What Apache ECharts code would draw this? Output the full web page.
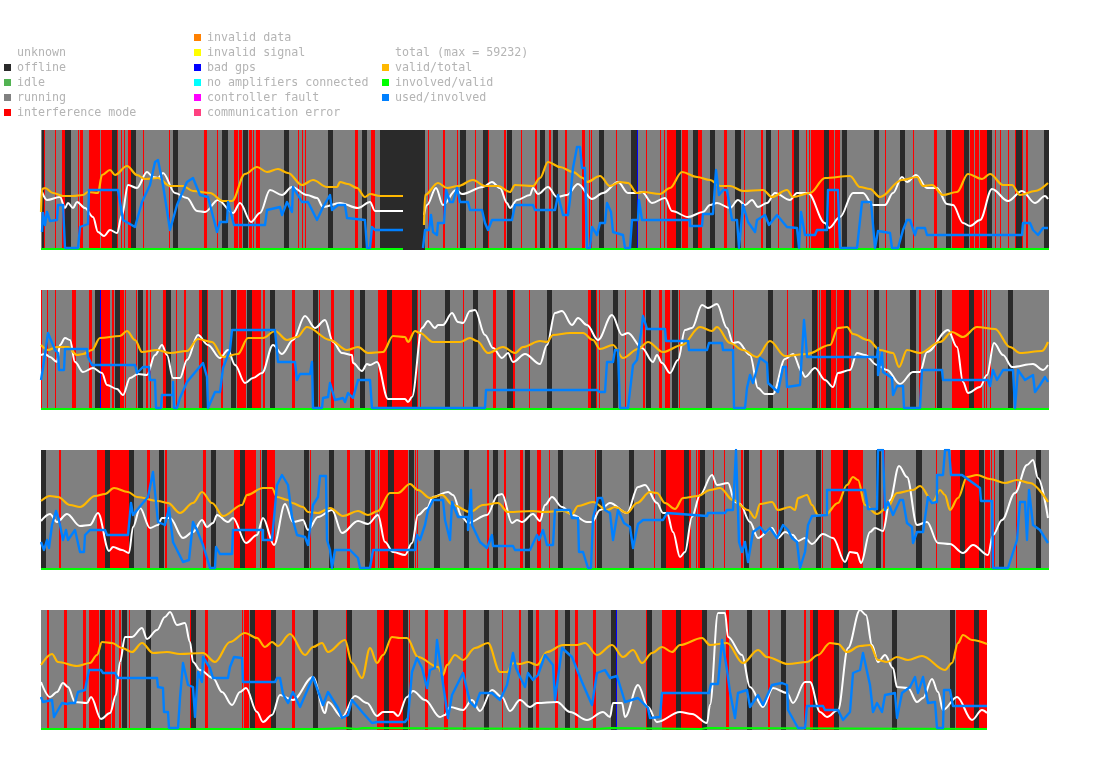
<!DOCTYPE html>
<html><head><meta charset="utf-8">
<style>html,body{margin:0;padding:0;background:#fff}#c{width:1095px;height:764px}</style>
<script src="https://cdn.jsdelivr.net/npm/echarts@6/dist/echarts.min.js"></script>
</head><body><div id="c"></div>
<script>
// x = sample index (0..1008), y = scale 0..120
const LEGEND_STATES_A = ['unknown','offline','idle','running','interference mode'];
const LEGEND_STATES_B = ['invalid data','invalid signal','bad gps','no amplifiers connected','controller fault','communication error'];
const LEGEND_LINES = ['total (max = 59232)','valid/total','involved/valid','used/involved'];
const COLORS = {'unknown':'rgba(0,0,0,0)','offline':'#2a2a2a','idle':'#52b352','running':'#808080','interference mode':'#ff0000',
 'invalid data':'#ff8000','invalid signal':'#ffff00','bad gps':'#0000ff','no amplifiers connected':'#00ffff','controller fault':'#ff00ff','communication error':'#ff4080',
 'total (max = 59232)':'#ffffff','valid/total':'#ffb800','involved/valid':'#00ff00','used/involved':'#0080ff'};

const RUN_1=[[0,1008]], RUN_2=[[0,1008]], RUN_3=[[0,1008]], RUN_4=[[0,946]];

const OFF_1=[[1,3],[24,30],[71,76],[90,95],[132,137],[181,187],[202,207],[243,248],[287,292],[321,326],[339,384],[419,425],[442,447],[466,471],[499,504],[512,517],[558,563],[590,596],[635,640],[652,657],[669,674],[694,700],[725,730],[753,758],[783,788],[801,806],[833,838],[859,864],[905,910],[923,928],[946,951],[975,981],[1003,1008]];
const RED_1=[[3,4],[14,15],[21,24],[37,38],[39,42],[48,59],[60,71],[76,77],[80,81],[83,84],[87,90],[102,103],[128,129],[163,166],[176,177],[193,197],[198,201],[208,211],[212,213],[215,219],[257,258],[261,262],[264,265],[314,317],[330,334],[387,388],[402,404],[416,417],[434,435],[447,448],[463,465],[480,481],[494,496],[508,510],[524,526],[541,544],[548,549],[550,551],[575,576],[605,606],[619,620],[623,624],[626,635],[641,647],[657,661],[683,686],[703,704],[720,722],[737,738],[751,753],[765,766],[768,769],[770,783],[788,793],[794,799],[844,845],[872,873],[893,896],[911,923],[929,933],[934,938],[939,946],[954,955],[959,960],[967,968],[974,975],[981,982],[985,987]];
const GPS_1=[[596,597]];

const OFF_2=[[54,59],[74,79],[97,102],[125,130],[161,166],[190,195],[206,211],[229,234],[272,277],[319,324],[346,351],[371,376],[404,409],[432,437],[466,472],[506,511],[550,555],[572,577],[605,610],[631,637],[665,671],[727,732],[771,776],[785,790],[803,808],[833,838],[869,875],[896,901],[928,933],[967,972]];
const RED_2=[[0,1],[6,7],[14,15],[31,35],[48,51],[60,69],[71,73],[79,83],[84,85],[95,96],[105,107],[109,110],[122,125],[135,136],[143,145],[158,161],[166,167],[180,182],[196,205],[211,220],[222,224],[251,254],[278,279],[290,293],[309,313],[337,346],[351,371],[376,377],[379,380],[422,423],[452,455],[472,474],[488,489],[547,550],[555,556],[558,559],[584,585],[602,604],[618,621],[624,629],[638,639],[692,693],[746,747],[776,777],[778,779],[780,785],[790,795],[796,803],[808,810],[826,827],[845,846],[878,880],[894,895],[911,928],[933,941],[943,944],[945,946],[949,950]];
const GPS_2=[[59,60]];

const OFF_3=[[0,5],[64,69],[88,93],[118,123],[170,175],[199,204],[221,226],[263,268],[288,293],[324,329],[347,353],[368,373],[393,399],[423,428],[452,457],[484,489],[517,522],[556,561],[588,593],[620,625],[643,648],[659,664],[703,708],[738,743],[775,780],[802,807],[835,840],[875,881],[919,924],[938,943],[958,963],[995,1000]];
const RED_3=[[18,20],[56,64],[69,88],[106,109],[124,126],[162,165],[193,199],[204,215],[219,220],[226,234],[269,270],[306,309],[330,334],[337,338],[339,347],[353,367],[374,375],[376,377],[446,448],[463,465],[479,482],[496,500],[508,509],[554,555],[613,614],[625,643],[648,650],[655,656],[657,659],[672,673],[683,684],[700,702],[719,721],[736,737],[781,782],[790,802],[807,822],[842,844],[895,896],[910,919],[924,938],[944,949],[950,951],[953,954],[975,976]];
const GPS_3=[];

const OFF_4=[[59,64],[81,86],[105,110],[150,155],[209,214],[230,235],[272,277],[306,311],[343,348],[362,367],[443,448],[487,492],[524,529],[570,575],[606,611],[635,640],[661,666],[706,711],[740,745],[772,777],[793,798],[851,856],[909,914],[933,938]];
const RED_4=[[6,8],[23,26],[42,45],[48,58],[64,70],[71,74],[78,80],[88,89],[149,150],[164,167],[201,202],[203,208],[214,230],[251,254],[305,306],[336,343],[348,362],[368,369],[384,387],[403,407],[422,425],[461,462],[478,480],[495,498],[514,517],[534,537],[552,555],[605,606],[621,635],[640,661],[685,688],[727,729],[763,765],[769,772],[777,793],[915,933],[938,946]];
const GPS_4=[[575,576]];

const TOTAL_1=[[1,58],[6,50],[19,53],[24,42],[27,47],[32,42],[36,48],[44,42],[52,33],[57,18],[63,14],[69,20],[76,17],[81,35],[87,65],[96,62],[106,78],[112,73],[117,72],[122,77],[134,57],[146,52],[156,39],[164,38],[177,50],[192,37],[199,47],[210,28],[219,37],[229,60],[241,55],[251,63],[266,55],[276,52],[282,43],[299,47],[317,42],[329,48],[334,39],[362,39],[370,null],[383,35],[386,45],[395,62],[402,45],[415,60],[421,56],[442,63],[451,68],[459,62],[466,47],[469,42],[476,50],[489,55],[492,62],[497,56],[507,63],[516,53],[526,55],[537,66],[551,51],[562,57],[577,68],[587,57],[596,57],[601,58],[611,47],[624,52],[631,39],[647,33],[662,38],[669,45],[676,47],[689,42],[697,50],[704,45],[711,50],[717,43],[726,47],[734,57],[749,50],[756,57],[767,57],[784,27],[788,22],[799,33],[812,57],[822,57],[832,45],[844,45],[852,57],[861,73],[866,68],[875,75],[886,62],[896,62],[906,46],[912,45],[922,27],[929,24],[939,30],[951,61],[967,49],[981,59],[994,47],[1004,54],[1007,51]];
const VALID_1=[[0,38],[1,61],[4,62],[12,57],[22,54],[32,54],[42,55],[47,58],[57,57],[61,75],[69,80],[74,75],[86,84],[96,75],[104,71],[117,72],[129,64],[142,64],[152,59],[169,57],[182,49],[191,49],[204,76],[216,83],[226,78],[237,81],[247,77],[261,65],[272,70],[286,63],[296,63],[299,68],[307,66],[316,62],[324,53],[329,56],[339,54],[362,54],[370,null],[383,25],[384,55],[397,67],[406,62],[417,64],[432,70],[444,64],[457,64],[469,58],[474,65],[492,64],[499,72],[507,88],[519,83],[532,78],[542,72],[546,68],[559,74],[569,64],[579,68],[587,67],[596,57],[602,58],[619,56],[629,62],[641,78],[656,73],[669,70],[679,64],[689,64],[702,59],[722,60],[731,53],[746,60],[752,53],[769,57],[784,72],[809,74],[819,63],[829,61],[839,53],[861,70],[876,73],[882,64],[891,65],[902,55],[916,58],[927,76],[941,71],[949,76],[962,65],[971,65],[979,55],[994,59],[1007,67]];
const INVOLVED_1=[[0,1],[362,1],[370,null],[384,1],[1008,1]];
const USED_1=[[1,18],[2,37],[4,25],[6,38],[9,29],[16,30],[17,45],[22,45],[24,2],[37,2],[39,23],[47,26],[48,60],[77,60],[82,30],[94,23],[101,48],[109,65],[114,88],[117,90],[122,65],[129,20],[136,45],[139,52],[146,68],[152,72],[159,55],[167,53],[176,18],[179,28],[186,28],[187,48],[193,25],[224,25],[226,40],[239,43],[241,35],[246,48],[251,38],[252,63],[261,48],[267,48],[276,30],[282,43],[289,55],[291,40],[297,45],[304,45],[306,32],[324,30],[326,2],[329,2],[331,23],[332,24],[334,20],[362,20],[370,null],[382,2],[384,20],[388,20],[390,35],[392,18],[396,15],[397,27],[403,27],[405,60],[409,48],[412,48],[416,62],[419,48],[427,48],[429,40],[441,40],[444,27],[447,20],[451,30],[471,30],[474,45],[492,45],[494,40],[514,40],[517,55],[522,35],[527,35],[529,50],[532,82],[536,103],[539,103],[541,82],[544,82],[546,2],[549,2],[551,23],[556,15],[559,27],[564,27],[566,47],[570,38],[572,18],[582,15],[584,2],[589,2],[591,30],[597,30],[598,50],[601,30],[649,30],[649,24],[661,24],[662,36],[672,36],[675,80],[678,55],[682,60],[686,60],[691,30],[696,30],[698,2],[700,2],[702,45],[707,28],[714,18],[716,30],[724,35],[728,25],[736,35],[746,23],[756,22],[758,2],[760,38],[764,15],[774,15],[776,20],[786,20],[787,60],[797,60],[799,2],[816,2],[821,48],[830,48],[834,2],[837,19],[839,17],[849,17],[851,2],[857,2],[862,20],[866,30],[869,30],[874,15],[876,22],[884,22],[886,15],[981,15],[982,27],[989,27],[992,20],[997,15],[1002,22],[1007,22]];

const TOTAL_2=[[0,55],[4,56],[9,53],[16,48],[19,65],[24,72],[29,70],[34,48],[42,38],[52,42],[61,37],[66,25],[76,21],[82,15],[89,32],[97,36],[106,35],[114,55],[121,65],[126,55],[132,32],[139,32],[146,50],[157,75],[167,65],[179,52],[187,60],[194,45],[204,27],[212,32],[221,37],[232,65],[241,56],[252,70],[264,94],[274,82],[284,90],[292,68],[301,57],[311,55],[312,47],[321,39],[326,46],[329,45],[336,48],[347,11],[364,11],[367,8],[371,13],[381,82],[387,89],[394,82],[397,85],[402,85],[411,97],[417,88],[422,87],[429,99],[434,100],[444,75],[452,62],[461,52],[467,57],[472,48],[484,56],[499,46],[506,65],[514,97],[521,99],[531,85],[537,92],[546,85],[557,70],[571,95],[581,75],[587,77],[601,62],[612,48],[616,55],[621,47],[629,37],[637,50],[644,80],[651,82],[661,105],[667,102],[676,106],[686,82],[692,67],[697,68],[709,55],[717,22],[724,16],[732,16],[744,51],[752,56],[761,38],[764,33],[774,42],[784,30],[792,23],[797,37],[809,40],[816,57],[824,55],[836,45],[846,40],[859,26],[872,38],[879,38],[886,58],[907,80],[916,63],[922,28],[927,17],[939,23],[946,35],[953,67],[962,55],[971,43],[992,46],[1002,40],[1007,45]];
const VALID_2=[[0,65],[7,60],[16,63],[27,63],[36,55],[42,56],[51,60],[59,72],[79,74],[86,79],[94,70],[101,58],[116,60],[129,57],[146,59],[157,71],[171,68],[182,53],[197,56],[207,72],[222,72],[234,79],[246,70],[256,73],[266,83],[289,70],[306,60],[317,63],[327,57],[342,58],[352,74],[364,73],[367,68],[374,79],[379,77],[392,68],[419,68],[429,72],[436,69],[447,57],[462,63],[474,57],[482,63],[499,69],[506,68],[512,75],[529,77],[542,77],[552,70],[559,61],[572,65],[582,52],[597,61],[607,68],[622,58],[641,65],[659,83],[671,79],[676,83],[689,67],[702,60],[716,53],[729,69],[744,54],[766,56],[789,65],[797,82],[806,83],[812,76],[827,70],[839,60],[852,57],[858,43],[866,60],[879,57],[899,68],[911,78],[922,73],[936,83],[954,81],[969,63],[979,57],[1001,59],[1007,68]];
const INVOLVED_2=[[0,1],[1008,1]];
const USED_2=[[0,30],[2,42],[7,77],[14,60],[17,57],[18,40],[23,40],[24,61],[46,61],[47,53],[51,45],[94,45],[96,37],[102,43],[108,43],[109,30],[114,30],[115,2],[120,2],[121,15],[132,15],[132,28],[133,2],[136,2],[139,12],[146,28],[156,40],[162,47],[166,33],[167,2],[174,18],[179,18],[182,42],[189,60],[191,80],[234,80],[237,48],[254,48],[256,30],[259,36],[269,36],[271,48],[272,2],[281,2],[282,12],[287,13],[289,27],[294,10],[302,12],[304,8],[307,17],[312,12],[317,30],[329,30],[331,2],[444,2],[445,20],[556,20],[559,18],[564,18],[566,48],[572,48],[574,60],[577,60],[579,2],[587,2],[592,45],[596,50],[600,77],[602,94],[606,81],[624,81],[625,69],[647,69],[648,60],[666,60],[668,67],[681,67],[682,60],[692,60],[693,2],[704,2],[706,22],[709,35],[712,27],[719,52],[726,47],[727,27],[737,18],[742,43],[745,43],[746,23],[759,25],[763,90],[765,67],[766,53],[836,53],[837,62],[837,35],[841,57],[842,38],[851,32],[852,15],[856,24],[862,24],[863,2],[879,2],[881,40],[901,40],[902,30],[947,30],[949,24],[952,40],[956,30],[962,40],[972,40],[974,2],[976,2],[977,40],[984,30],[992,35],[994,18],[999,25],[1004,33],[1007,28]];

const TOTAL_3=[[0,49],[9,56],[16,48],[26,56],[39,44],[49,45],[57,57],[68,19],[72,23],[81,20],[88,17],[92,43],[99,62],[109,42],[117,45],[121,52],[129,52],[142,32],[152,38],[161,50],[166,43],[172,47],[176,55],[187,48],[192,52],[205,27],[216,35],[222,52],[233,25],[244,66],[252,48],[262,50],[267,40],[277,53],[291,60],[301,37],[317,49],[327,46],[337,55],[344,28],[352,18],[364,15],[371,27],[377,55],[386,62],[392,73],[407,78],[412,75],[421,53],[427,47],[446,55],[457,75],[461,76],[471,47],[476,50],[481,48],[492,56],[499,49],[504,65],[511,73],[521,63],[532,55],[546,48],[551,48],[559,60],[569,67],[586,57],[597,83],[604,85],[616,67],[622,57],[626,57],[632,38],[639,13],[644,18],[651,53],[659,75],[671,95],[676,85],[687,87],[694,68],[699,66],[709,48],[717,32],[731,42],[737,32],[744,38],[752,35],[757,29],[764,32],[771,26],[782,36],[792,32],[804,8],[809,18],[816,17],[820,7],[829,38],[834,42],[842,39],[849,70],[858,104],[866,93],[876,45],[886,48],[897,27],[909,26],[922,17],[932,25],[947,15],[952,35],[961,50],[974,77],[986,105],[992,110],[997,92],[1007,52]];
const VALID_3=[[0,69],[9,74],[17,73],[29,65],[39,63],[54,74],[64,76],[73,82],[87,78],[96,73],[117,69],[127,67],[139,57],[152,67],[161,78],[171,67],[182,54],[201,65],[206,75],[222,82],[231,82],[236,73],[247,70],[251,67],[262,63],[267,58],[277,57],[289,62],[302,54],[317,59],[327,55],[337,59],[349,77],[357,77],[369,86],[377,80],[389,72],[401,75],[412,65],[429,58],[442,65],[457,67],[467,58],[492,59],[502,58],[522,59],[531,56],[537,64],[552,68],[566,60],[574,63],[586,57],[596,67],[609,78],[616,77],[624,67],[634,61],[642,72],[657,74],[669,80],[679,82],[692,70],[707,60],[714,52],[719,66],[731,68],[737,60],[749,63],[754,60],[757,72],[766,75],[771,65],[777,55],[784,55],[797,67],[806,85],[812,93],[817,90],[824,65],[836,56],[846,62],[856,77],[872,80],[879,84],[892,68],[899,80],[904,75],[909,60],[917,72],[926,93],[936,95],[949,91],[964,87],[976,90],[989,87],[1007,68]];
const INVOLVED_3=[[0,1],[1008,1]];
const USED_3=[[0,28],[3,20],[6,30],[8,22],[11,45],[15,59],[18,50],[22,30],[25,40],[27,30],[34,40],[39,18],[43,18],[44,35],[49,40],[64,40],[66,35],[87,35],[90,67],[92,55],[101,66],[107,73],[112,98],[115,68],[117,48],[124,45],[128,62],[132,28],[142,8],[148,10],[152,48],[156,40],[162,25],[166,12],[169,2],[174,2],[175,23],[179,16],[191,16],[192,40],[222,40],[222,30],[231,30],[236,85],[241,95],[247,85],[251,53],[256,35],[264,33],[267,25],[272,65],[277,73],[279,94],[285,94],[286,30],[289,20],[291,2],[294,20],[309,20],[317,12],[319,2],[329,2],[332,20],[374,20],[376,35],[379,30],[384,45],[387,60],[392,70],[402,70],[404,50],[409,30],[411,68],[417,53],[427,53],[427,40],[430,80],[431,45],[439,28],[446,22],[451,35],[452,24],[472,24],[474,20],[489,20],[496,35],[498,30],[502,40],[506,25],[512,25],[514,60],[529,60],[531,52],[537,52],[538,18],[542,18],[547,2],[550,2],[552,52],[557,72],[561,72],[564,60],[569,57],[572,30],[577,60],[583,47],[589,43],[592,22],[597,46],[602,50],[622,50],[626,57],[666,54],[667,57],[684,57],[686,60],[692,60],[695,120],[696,120],[698,28],[701,18],[704,28],[707,8],[712,38],[719,43],[724,37],[729,42],[736,32],[742,45],[747,40],[751,32],[756,28],[759,2],[764,18],[767,45],[771,54],[786,55],[786,80],[824,80],[827,61],[836,61],[837,120],[842,120],[844,60],[847,68],[852,55],[859,70],[862,70],[866,47],[871,43],[872,27],[876,38],[882,38],[887,73],[891,67],[896,68],[896,95],[902,95],[904,120],[908,120],[910,95],[921,95],[939,82],[940,69],[951,69],[952,2],[967,2],[976,30],[979,68],[984,68],[986,30],[988,80],[992,45],[999,40],[1007,27]];

const TOTAL_4=[[0,48],[9,33],[16,38],[22,47],[27,43],[34,28],[46,27],[50,33],[60,11],[69,17],[75,35],[79,68],[84,93],[91,93],[101,102],[106,91],[116,100],[124,113],[129,118],[136,105],[144,107],[149,88],[152,68],[159,60],[172,52],[181,38],[191,25],[199,38],[205,42],[216,18],[222,8],[231,15],[239,35],[252,30],[272,53],[284,17],[287,28],[301,13],[314,34],[326,27],[336,14],[342,18],[352,18],[357,14],[366,33],[372,39],[384,30],[399,13],[404,15],[409,23],[422,20],[431,30],[439,19],[451,40],[461,33],[469,19],[479,30],[489,23],[496,27],[516,28],[529,18],[546,10],[562,18],[569,13],[572,27],[581,27],[584,13],[597,45],[607,23],[616,8],[639,18],[651,16],[666,7],[669,25],[677,117],[684,117],[687,93],[701,75],[709,43],[722,23],[732,42],[746,37],[752,27],[764,48],[769,48],[779,18],[786,13],[797,20],[807,82],[819,120],[825,115],[831,85],[837,68],[844,75],[852,62],[856,43],[867,42],[876,28],[882,32],[891,51],[897,38],[902,20],[916,33],[931,10],[941,20],[946,17]];
const VALID_4=[[0,65],[11,76],[17,68],[36,64],[49,67],[56,75],[61,88],[71,87],[81,82],[91,78],[101,87],[112,77],[126,78],[139,76],[162,77],[174,68],[189,88],[204,97],[216,92],[224,83],[231,88],[237,84],[249,96],[264,75],[272,83],[281,87],[287,78],[304,90],[311,67],[321,52],[329,82],[336,67],[342,75],[351,93],[359,92],[366,92],[377,73],[397,63],[402,55],[406,65],[414,75],[422,70],[434,82],[447,87],[459,58],[466,58],[472,67],[479,66],[487,68],[496,65],[506,78],[522,85],[536,85],[544,87],[556,75],[571,85],[582,73],[592,80],[601,67],[611,77],[621,83],[631,78],[639,85],[661,92],[669,85],[686,87],[702,67],[717,80],[726,73],[747,66],[766,68],[777,75],[789,87],[797,86],[806,78],[819,84],[829,85],[837,70],[846,68],[856,73],[867,70],[881,74],[904,60],[911,67],[917,87],[922,95],[931,90],[946,86]];
const INVOLVED_4=[[0,1],[281,1],[282,2],[304,2],[305,1],[316,1],[317,2],[322,2],[323,1],[556,1],[557,2],[569,2],[570,1],[660,1],[661,2],[666,2],[667,1],[946,1]];
const USED_4=[[0,33],[2,28],[11,30],[13,13],[21,27],[26,26],[29,27],[34,27],[37,38],[44,40],[48,60],[60,60],[62,57],[74,57],[77,52],[116,52],[117,43],[122,42],[123,18],[127,18],[128,2],[137,2],[139,32],[142,67],[147,45],[152,43],[154,13],[157,58],[161,48],[162,73],[169,62],[172,52],[187,52],[189,63],[193,73],[201,72],[202,48],[234,48],[236,52],[239,52],[242,36],[247,27],[252,38],[259,23],[272,53],[282,25],[287,38],[297,22],[301,12],[307,15],[311,30],[322,17],[331,7],[336,8],[364,8],[367,12],[371,58],[376,72],[381,62],[386,42],[389,60],[394,62],[396,90],[401,53],[407,12],[411,35],[422,57],[429,28],[434,23],[439,37],[451,37],[459,30],[466,45],[472,77],[475,62],[479,53],[484,43],[487,57],[492,50],[497,55],[504,75],[512,65],[514,30],[516,30],[521,82],[531,73],[541,48],[551,25],[556,57],[564,60],[569,52],[576,54],[584,28],[597,32],[607,22],[609,12],[619,13],[621,37],[668,37],[670,46],[677,46],[681,90],[686,60],[689,38],[694,12],[697,37],[706,40],[709,23],[717,35],[722,25],[731,45],[741,47],[746,45],[747,20],[757,2],[764,2],[766,24],[782,24],[784,20],[797,20],[802,10],[809,18],[812,57],[819,60],[822,77],[829,45],[832,18],[836,27],[841,18],[844,35],[854,37],[856,12],[861,37],[869,43],[874,53],[877,37],[882,53],[887,27],[894,28],[896,2],[902,2],[903,40],[909,40],[912,24],[946,24]];

const ROWS=[
 {run:RUN_1,off:OFF_1,red:RED_1,gps:GPS_1,t:TOTAL_1,v:VALID_1,i:INVOLVED_1,u:USED_1},
 {run:RUN_2,off:OFF_2,red:RED_2,gps:GPS_2,t:TOTAL_2,v:VALID_2,i:INVOLVED_2,u:USED_2},
 {run:RUN_3,off:OFF_3,red:RED_3,gps:GPS_3,t:TOTAL_3,v:VALID_3,i:INVOLVED_3,u:USED_3},
 {run:RUN_4,off:OFF_4,red:RED_4,gps:GPS_4,t:TOTAL_4,v:VALID_4,i:INVOLVED_4,u:USED_4}];

const grid=[],xAxis=[],yAxis=[],series=[];
function band(name,data,ix){
  series.push({type:'custom',name,xAxisIndex:ix,yAxisIndex:ix,data,silent:true,clip:true,animation:false,
    encode:{x:[0,1]},itemStyle:{color:COLORS[name]},
    renderItem(p,api){
      const a=api.coord([api.value(0),120]),b=api.coord([api.value(1),0]);
      const x0=Math.round(a[0]),x1=Math.round(b[0]);
      return {type:'rect',shape:{x:x0,y:a[1],width:x1-x0,height:b[1]-a[1]},style:{fill:COLORS[name]}};
    }});
}
function line(name,data,ix,w,smooth){
  series.push({type:'line',name,xAxisIndex:ix,yAxisIndex:ix,data,showSymbol:false,symbol:'none',silent:true,animation:false,clip:true,
    smooth,smoothMonotone:smooth?'x':undefined,
    connectNulls:false,itemStyle:{color:COLORS[name]},lineStyle:{color:COLORS[name],width:w,join:'round'}});
}
ROWS.forEach((r,ix)=>{
  grid.push({left:41,width:1008,top:130+160*ix,height:120,containLabel:false});
  xAxis.push({type:'value',gridIndex:ix,min:0,max:1008,show:false});
  yAxis.push({type:'value',gridIndex:ix,min:0,max:120,show:false});
  band('running',r.run,ix);
  band('offline',r.off,ix);
  band('interference mode',r.red,ix);
  band('bad gps',r.gps,ix);
  line(LEGEND_LINES[0],r.t,ix,2,0.35);
  line('valid/total',r.v,ix,2.2,0.35);
  line('involved/valid',r.i,ix,2,0);
  line('used/involved',r.u,ix,2.4,0);
});
// legend-only entries
[...LEGEND_STATES_A,...LEGEND_STATES_B].forEach(n=>{
  if(!['running','offline','interference mode','bad gps'].includes(n)) band(n,[],0);
});
const textStyle={color:'#b4b4b4',fontFamily:'"DejaVu Sans Mono",monospace',fontSize:11.67,lineHeight:15,padding:[0,0,0,1]};
function legend(names,left,top){
  return {show:true,orient:'vertical',left,top,padding:0,itemGap:0,itemWidth:7,itemHeight:7,selectedMode:false,textStyle,
    data:names.map(n=>({name:n,icon:'rect',itemStyle:{color:COLORS[n]},textStyle}))};
}
const chart=echarts.init(document.getElementById('c'),null,{renderer:'canvas'});
chart.setOption({animation:false,backgroundColor:'#ffffff',tooltip:{show:false},
  legend:[legend(LEGEND_STATES_A,4,45),legend(LEGEND_STATES_B,194,30),legend(LEGEND_LINES,382,45)],
  grid,xAxis,yAxis,series});
</script></body></html>
